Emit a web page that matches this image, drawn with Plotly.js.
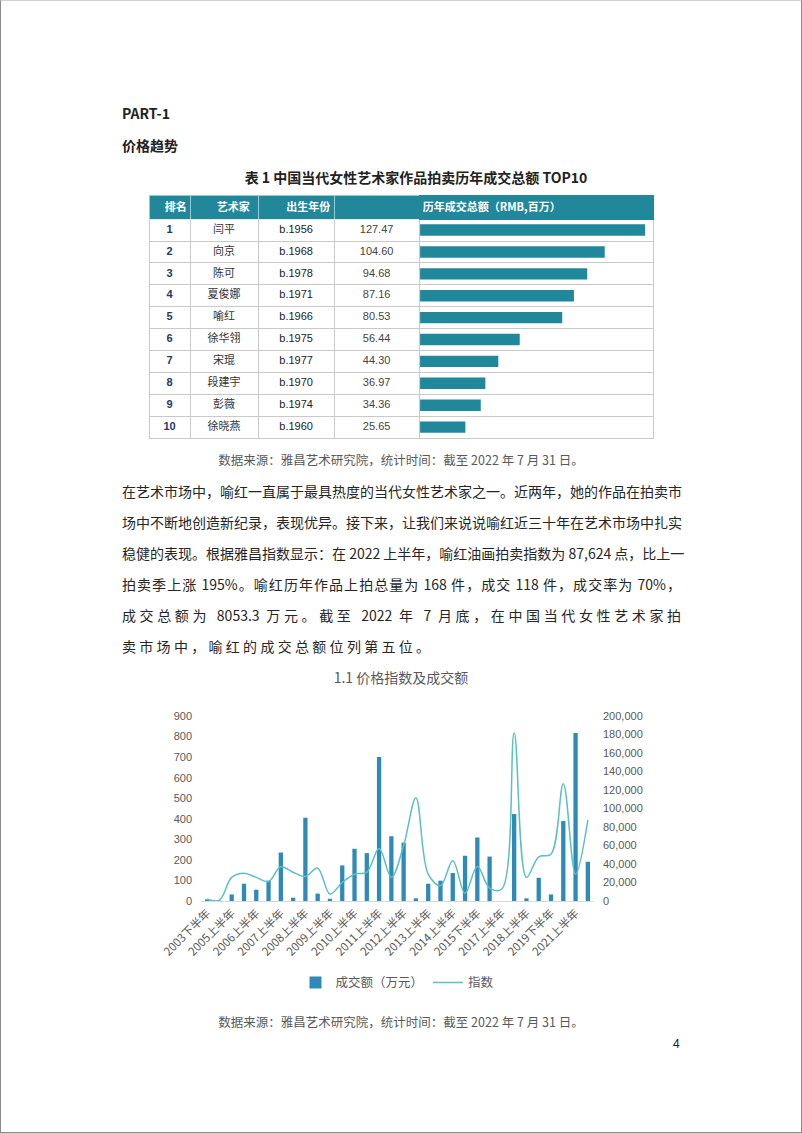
<!DOCTYPE html>
<html><head><meta charset="utf-8">
<script src="https://cdn.plot.ly/plotly-3.0.1.min.js"></script>
<style>
html,body{margin:0;padding:0;background:#fff;}
#page{position:relative;width:802px;height:1133px;box-sizing:border-box;border:1px solid #8a8a8a;border-top-color:#d0d0d0;overflow:hidden;font-family:"Noto Sans CJK SC","Noto Sans",sans-serif;}
.t{position:absolute;white-space:nowrap;}
.para{position:absolute;left:121px;width:559px;font-size:14px;line-height:20px;color:#262626;text-align:justify;text-align-last:justify;white-space:nowrap;}
#tbl{position:absolute;left:140px;top:186px;transform:scale(0.45);transform-origin:0 0;}
</style></head>
<body><div id="page">
<div class="t" style="left:121px;top:102px;font-size:14px;line-height:20px;font-weight:bold;color:#222;">PART-1</div>
<div class="t" style="left:121px;top:134px;font-size:14px;line-height:20px;font-weight:bold;color:#222;">价格趋势</div>
<div class="t" style="left:0;width:830px;text-align:center;top:166px;font-size:14px;line-height:20px;font-weight:bold;color:#222;">表 1 中国当代女性艺术家作品拍卖历年成交总额 TOP10</div>
<div id="tbl"></div>
<div class="t" style="left:0;width:800px;text-align:center;top:450px;font-size:12.5px;line-height:18px;color:#595959;">数据来源：雅昌艺术研究院，统计时间：截至 2022 年 7 月 31 日。</div>
<div class="para" style="top:480px;">在艺术市场中，喻红一直属于最具热度的当代女性艺术家之一。近两年，她的作品在拍卖市</div>
<div class="para" style="top:511px;">场中不断地创造新纪录，表现优异。接下来，让我们来说说喻红近三十年在艺术市场中扎实</div>
<div class="para" style="top:542px;">稳健的表现。根据雅昌指数显示：在 2022 上半年，喻红油画拍卖指数为 87,624 点，比上一</div>
<div class="para" style="top:573px;">拍卖季上涨 195%。喻红历年作品上拍总量为 168 件，成交 118 件，成交率为 70%，</div>
<div class="para" style="top:604px;">成交总额为 8053.3 万元。截至 2022 年 7 月底，在中国当代女性艺术家拍</div>
<div class="para" style="top:635px;text-align:left;text-align-last:left;width:auto;letter-spacing:3.3px;">卖市场中，喻红的成交总额位列第五位。</div>
<div id="chart" style="position:absolute;left:100px;top:660px;width:600px;height:350px;"></div>
<div class="t" style="left:0;width:800px;text-align:center;top:1012px;font-size:12.5px;line-height:18px;color:#595959;">数据来源：雅昌艺术研究院，统计时间：截至 2022 年 7 月 31 日。</div>
<div class="t" style="left:672px;top:1035px;font-size:12px;line-height:16px;color:#222;font-family:'Liberation Sans',Arial,sans-serif;">4</div>
</div>
<script>
// ---- Table data ----
const tableHeaders = ['排名', '艺术家', '出生年份', '', '历年成交总额（RMB,百万）'];
const ranks = ['1','2','3','4','5','6','7','8','9','10'];
const artists = ['闫平','向京','陈可','夏俊娜','喻红','徐华翎','宋琨','段建宇','彭薇','徐晓燕'];
const births = ['b.1956','b.1968','b.1978','b.1971','b.1966','b.1975','b.1977','b.1970','b.1974','b.1960'];
const totals = [127.47, 104.60, 94.68, 87.16, 80.53, 56.44, 44.30, 36.97, 34.36, 25.65];

// ---- Chart data ----
const periods = ['2003下半年','2004下半年','2005上半年','2005下半年','2006上半年','2006下半年','2007上半年','2007下半年',
 '2008上半年','2008下半年','2009上半年','2009下半年','2010上半年','2010下半年','2011上半年','2011下半年',
 '2012上半年','2012下半年','2013上半年','2013下半年','2014上半年','2014下半年','2015下半年','2016上半年',
 '2017上半年','2017下半年','2018上半年','2018下半年','2019下半年','2020下半年','2021上半年','2022上半年'];
const amounts = [8, 2, 32, 84, 55, 99, 236, 16, 405, 36, 11, 173, 254, 233, 700, 315,
 284, 13, 84, 99, 136, 220, 309, 216, 0, 423, 13, 113, 32, 389, 817, 191];
const indexVals = [2000, 1000, 25500, 30000, 25500, 21000, 37000, 31000, 26500, 35500, 7500, 20000, 29000, 31000, 56700, 25500,
 60000, 111700, 29000, 16500, 43500, 8300, 37300, 14000, 13000, 181700, 25500, 47800, 50600, 126700, 29000, 87600];

const teal = '#21879a';
const cjk = 'Noto Sans CJK SC, Noto Sans, sans-serif';
const lat = 'Liberation Sans, Arial, sans-serif';

// ---- Table figure (drawn at 1/S size, scaled down by CSS) ----
const S = 0.45;
const blanks = ranks.map(() => '');
const lineW = 1 / S;
const clear = 'rgba(0,0,0,0)';
const headerTexts = tableHeaders.map(h => '<b>' + h + '</b>');
const cellTexts = [ranks, artists, births, totals.map(v => v.toFixed(2)), blanks];
const P = 248; // plot-area height in final px
const tblTraces = [
 { // grid: fills and borders
  type: 'table',
  domain: {x: [0, 1], y: [0, 1]},
  columnwidth: [41, 68, 76, 85, 234],
  header: {
   values: tableHeaders.map(() => ''),
   height: 24 / S,
   fill: {color: teal},
   line: {color: ['rgba(255,255,255,0.55)','rgba(255,255,255,0.55)','rgba(255,255,255,0.55)','rgba(255,255,255,0.55)', teal], width: lineW},
   font: {size: 11 / S}
  },
  cells: {
   values: cellTexts.map(c => c.map(() => '')),
   height: 21.9 / S,
   fill: {color: ['#ffffff','#ffffff','#ffffff','#ffffff', clear]},
   line: {color: '#c9c9c9', width: lineW},
   font: {size: 11 / S}
  }
 },
 { // texts, offset down to sit in the middle of each cell
  type: 'table',
  domain: {x: [0, 1], y: [0, (P - 6) / P]},
  columnwidth: [41, 68, 76, 85, 234],
  header: {
   values: headerTexts,
   align: ['center','center','center','center','left'],
   height: 19.8 / S,
   fill: {color: clear},
   line: {color: clear, width: 0},
   font: {color: '#ffffff', size: 11 / S, family: cjk}
  },
  cells: {
   values: cellTexts,
   align: 'center',
   height: 21.9 / S,
   fill: {color: clear},
   line: {color: clear, width: 0},
   font: {color: ['#1f3864','#333333','#222222','#444444','#000000'], size: 11 / S, family: [lat, cjk, lat, lat, lat],
          weight: ['bold','normal','normal','normal','normal']}
  }
 },
 {
  type: 'bar', orientation: 'h',
  x: totals, y: ranks,
  xaxis: 'x', yaxis: 'y',
  marker: {color: teal},
  width: 0.52,
  hoverinfo: 'skip'
 }
];
const plotW = 504 / S, plotH = P / S, mg = 8 / S;
const tblLayout = {
 width: plotW + 2 * mg, height: plotH + 2 * mg,
 margin: {l: mg, r: mg, t: mg, b: mg, pad: 0},
 paper_bgcolor: 'rgba(0,0,0,0)', plot_bgcolor: 'rgba(0,0,0,0)',
 showlegend: false,
 xaxis: {domain: [271/504, 1], range: [0, 132], visible: false, fixedrange: true},
 yaxis: {domain: [(P - 243) / P, (P - 24) / P], type: 'category', autorange: 'reversed', visible: false, fixedrange: true}
};
Plotly.newPlot('tbl', tblTraces, tblLayout, {staticPlot: true, displayModeBar: false});

// ---- Combo chart ----
const tickFont = {family: lat, size: 11, color: '#595959'};
const chartTraces = [
 {
  type: 'bar', x: periods, y: amounts, name: '成交额（万元）',
  marker: {color: '#2e8bb8'}, width: 0.35
 },
 {
  type: 'scatter', mode: 'lines', x: periods, y: indexVals, name: '指数', yaxis: 'y2',
  line: {shape: 'spline', smoothing: 1, color: '#5cbfc3', width: 1.5}
 }
];
const chartLayout = {
 width: 600, height: 350,
 margin: {l: 100, r: 107, t: 55, b: 110},
 paper_bgcolor: 'rgba(0,0,0,0)', plot_bgcolor: 'rgba(0,0,0,0)',
 title: {text: '1.1 价格指数及成交额', font: {family: cjk, size: 14, color: '#595959'}, x: 0.5, xref: 'container', xanchor: 'center', y: 1 - 17/350, yref: 'container', yanchor: 'middle'},
 xaxis: {type: 'category', tickmode: 'array', tickvals: periods.filter((p, i) => i % 2 === 0), tickangle: -45,
   tickfont: {family: cjk, size: 11.5, color: '#595959'}, showline: true, linecolor: '#d9d9d9', linewidth: 1, showgrid: false, ticks: ''},
 yaxis: {range: [0, 900], dtick: 100, showgrid: false, zeroline: false, tickfont: tickFont, ticks: '', ticklabelstandoff: 8},
 yaxis2: {range: [0, 200000], dtick: 20000, overlaying: 'y', side: 'right', tickformat: ',d', showgrid: false, zeroline: false, tickfont: tickFont, ticks: '', ticklabelstandoff: 8},
 legend: {orientation: 'h', x: 0.5, xanchor: 'center', y: -0.443, yanchor: 'middle', font: {family: cjk, size: 12.5, color: '#595959'}, itemwidth: 30},
 bargap: 0.6
};
Plotly.newPlot('chart', chartTraces, chartLayout, {staticPlot: true, displayModeBar: false});
</script>
</body></html>
